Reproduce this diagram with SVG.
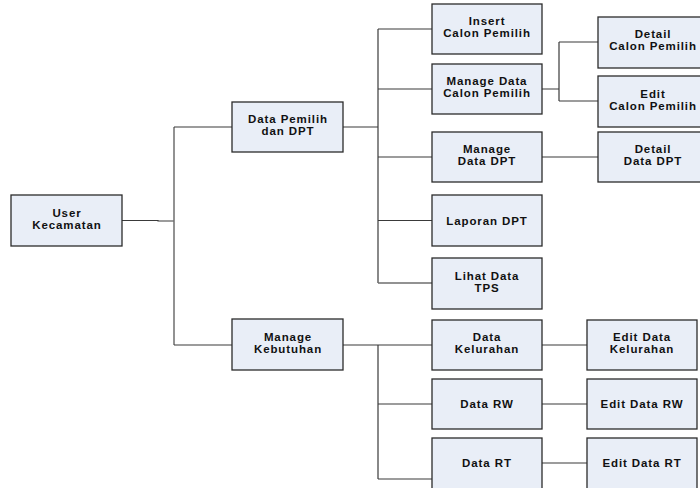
<svg xmlns="http://www.w3.org/2000/svg" width="700" height="488" viewBox="0 0 700 488">
  <style>
    .box { fill: #E9EEF7; stroke: #2b2b2b; stroke-width: 1.3; }
    .lbl { font-family: "Liberation Sans", Arial, sans-serif; font-weight: bold; font-size: 11.5px; letter-spacing: 0.9px; fill: #111; text-anchor: middle; }
    .wire { fill: none; stroke: #3a3a3a; stroke-width: 1.2; }
    .wire-g { fill: none; stroke: #6e6e6e; stroke-width: 1.5; }
  </style>
  <rect width="700" height="488" fill="#ffffff"/>

  <g id="connectors">
    <!-- root to first level -->
    <path class="wire" d="M122 220.5 H158 V221 H174"/>
    <path class="wire-g" d="M174 127 V345"/>
    <path class="wire" d="M174 127 H232 M174 345 H232"/>
    <!-- Data Pemilih branch -->
    <path class="wire" d="M343 127 H378"/>
    <path class="wire" d="M378 29 V283"/>
    <path class="wire" d="M378 29 H432 M378 89 H432 M378 157 H432 M378 220.5 H432"/>
    <path class="wire-g" d="M378 283 H432"/>
    <!-- Manage Data Calon Pemilih children -->
    <path class="wire" d="M542 89 H559 M559 42 V101 M559 42 H598 M559 101 H598"/>
    <path class="wire" d="M542 157 H598"/>
    <!-- Manage Kebutuhan branch -->
    <path class="wire" d="M343 345 H432"/>
    <path class="wire" d="M378 345 V479 M378 404 H432 M378 479 H432"/>
    <path class="wire" d="M542 345 H587 M542 404 H587 M542 463 H587"/>
  </g>

  <g id="user-kecamatan">
    <rect class="box" x="11" y="195" width="111" height="51"/>
    <text class="lbl" x="67" y="216.5">User</text>
    <text class="lbl" x="67" y="229">Kecamatan</text>
  </g>

  <g id="data-pemilih-dpt">
    <rect class="box" x="232" y="102" width="111" height="50"/>
    <text class="lbl" x="288" y="122.5">Data Pemilih</text>
    <text class="lbl" x="288" y="135">dan DPT</text>
  </g>

  <g id="manage-kebutuhan">
    <rect class="box" x="232" y="319" width="111" height="51"/>
    <text class="lbl" x="288" y="340.5">Manage</text>
    <text class="lbl" x="288" y="353">Kebutuhan</text>
  </g>

  <g id="insert-calon-pemilih">
    <rect class="box" x="432" y="4" width="110" height="50"/>
    <text class="lbl" x="487" y="24.5">Insert</text>
    <text class="lbl" x="487" y="37">Calon Pemilih</text>
  </g>

  <g id="manage-data-calon-pemilih">
    <rect class="box" x="432" y="64" width="110" height="50"/>
    <text class="lbl" x="487" y="84.5">Manage Data</text>
    <text class="lbl" x="487" y="97">Calon Pemilih</text>
  </g>

  <g id="manage-data-dpt">
    <rect class="box" x="432" y="132" width="110" height="50"/>
    <text class="lbl" x="487" y="152.5">Manage</text>
    <text class="lbl" x="487" y="165">Data DPT</text>
  </g>

  <g id="laporan-dpt">
    <rect class="box" x="432" y="195" width="110" height="51"/>
    <text class="lbl" x="487" y="225">Laporan DPT</text>
  </g>

  <g id="lihat-data-tps">
    <rect class="box" x="432" y="258" width="110" height="51"/>
    <text class="lbl" x="487" y="279.5">Lihat Data</text>
    <text class="lbl" x="487" y="292">TPS</text>
  </g>

  <g id="detail-calon-pemilih">
    <rect class="box" x="598" y="17" width="111" height="51"/>
    <text class="lbl" x="653" y="37.5">Detail</text>
    <text class="lbl" x="653" y="50">Calon Pemilih</text>
  </g>

  <g id="edit-calon-pemilih">
    <rect class="box" x="598" y="76" width="111" height="51"/>
    <text class="lbl" x="653" y="97.5">Edit</text>
    <text class="lbl" x="653" y="110">Calon Pemilih</text>
  </g>

  <g id="detail-data-dpt">
    <rect class="box" x="598" y="132" width="111" height="50"/>
    <text class="lbl" x="653" y="152.5">Detail</text>
    <text class="lbl" x="653" y="165">Data DPT</text>
  </g>

  <g id="data-kelurahan">
    <rect class="box" x="432" y="320" width="110" height="50"/>
    <text class="lbl" x="487" y="340.5">Data</text>
    <text class="lbl" x="487" y="353">Kelurahan</text>
  </g>

  <g id="data-rw">
    <rect class="box" x="432" y="379" width="110" height="50"/>
    <text class="lbl" x="487" y="408">Data RW</text>
  </g>

  <g id="data-rt">
    <rect class="box" x="432" y="438" width="110" height="54"/>
    <text class="lbl" x="487" y="467">Data RT</text>
  </g>

  <g id="edit-data-kelurahan">
    <rect class="box" x="587" y="320" width="110" height="50"/>
    <text class="lbl" x="642" y="340.5">Edit Data</text>
    <text class="lbl" x="642" y="353">Kelurahan</text>
  </g>

  <g id="edit-data-rw">
    <rect class="box" x="587" y="379" width="110" height="50"/>
    <text class="lbl" x="642" y="408">Edit Data RW</text>
  </g>

  <g id="edit-data-rt">
    <rect class="box" x="587" y="438" width="110" height="54"/>
    <text class="lbl" x="642" y="467">Edit Data RT</text>
  </g>
</svg>
